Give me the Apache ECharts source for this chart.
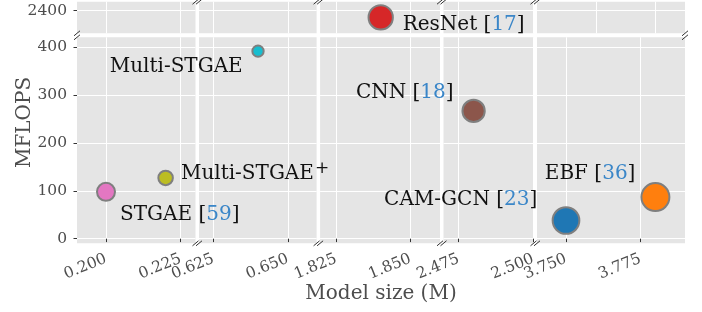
<!DOCTYPE html>
<html><head><meta charset="utf-8">
<script src="https://cdn.jsdelivr.net/npm/echarts@6/dist/echarts.min.js"></script>
<style>html,body{margin:0;padding:0;background:#fff}#c{width:702px;height:312px}</style>
</head><body><div id="c"></div>
<script>
// ---- data ----
const models = ['STGAE', 'Multi-STGAE+', 'Multi-STGAE', 'ResNet', 'CNN', 'CAM-GCN', 'EBF'];
const refs = ['59', '', '', '17', '18', '23', '36'];
const modelSize = [0.200, 0.220, 0.640, 1.840, 2.480, 3.750, 3.780];
const mflops = [98, 127, 392, 2386, 267, 38, 87];
// broken-axis ranges and tick labels
const xRanges = [[0.19027, 0.23003], [0.6202, 0.65966], [1.81966, 1.8599], [2.4699, 2.5001], [3.74027, 3.78993]];
const xTicks = [[0.200, 0.225], [0.625, 0.650], [1.825, 1.850], [2.475, 2.500], [3.750, 3.775]];
const xTicksTopRight = [3.76, 3.78];
const yRanges = [[2352.8, 2418.8], [-9.61, 420.9]];
const yTicks = [[2400], [0, 100, 200, 300, 400]];

// ---- styles / layout ----
const FONT = 'DejaVu Serif';
const colors = ['#e377c2', '#bcbd22', '#17becf', '#d62728', '#8c564b', '#1f77b4', '#ff7f0e'];
const sizes = [18, 14.5, 11.3, 24.3, 22.3, 26.7, 28];
const labelPlace = [
  {align: 'left', offset: [14, 22.6]},
  {align: 'left', offset: [15.3, -4.4]},
  {align: 'right', offset: [-15.3, 15.7]},
  {align: 'left', offset: [22, 7]},
  {align: 'right', offset: [-20, -17.7]},
  {align: 'right', offset: [-28.7, -20.7]},
  {align: 'right', offset: [-20, -23.7]}
];
const colEdges = [[77, 195.5], [199, 316.6], [320.1, 440], [443.5, 533.5], [537, 685]];
const rowEdges = [[1.7, 33.3], [37.3, 243.3]];

const grid = [], xAxis = [], yAxis = [], series = [];
for (let r = 0; r < 2; r++) {
  for (let c = 0; c < 5; c++) {
    const i = r * 5 + c;
    grid.push({
      left: colEdges[c][0], top: rowEdges[r][0],
      width: colEdges[c][1] - colEdges[c][0], height: rowEdges[r][1] - rowEdges[r][0],
      show: true, backgroundColor: '#e5e5e5', borderWidth: 0, containLabel: false, outerBoundsMode: 'none'
    });
    const xt = (r === 0 && c === 4) ? xTicksTopRight : xTicks[c];
    xAxis.push({
      type: 'value', gridIndex: i, min: xRanges[c][0], max: xRanges[c][1],
      axisLine: {show: false},
      axisTick: {show: r === 1, customValues: xt, length: 3.5, lineStyle: {color: '#333'}},
      axisLabel: {show: r === 1, customValues: xt, rotate: 22, margin: 15,
        formatter: v => v.toFixed(3), fontFamily: FONT, fontSize: 15.5, color: '#4d4d4d'},
      splitLine: {show: true, lineStyle: {color: '#ffffff', width: 1}}
    });
    yAxis.push({
      type: 'value', gridIndex: i, min: yRanges[r][0], max: yRanges[r][1],
      axisLine: {show: false},
      axisTick: {show: c === 0, customValues: yTicks[r], length: 3.5, lineStyle: {color: '#333'}},
      axisLabel: {show: c === 0, customValues: yTicks[r], margin: 10, formatter: v => String(v),
        fontFamily: FONT, fontSize: 15.5, color: '#4d4d4d'},
      splitLine: {show: true, lineStyle: {color: '#ffffff', width: 1}}
    });
  }
}
// frame grid for the axis titles
grid.push({left: 77, top: 1.7, width: 608, height: 241.6, show: false, outerBoundsMode: 'none'});
xAxis.push({type: 'value', gridIndex: 10, min: 0, max: 1, name: 'Model size (M)', nameLocation: 'middle', nameGap: 40,
  nameTextStyle: {fontFamily: FONT, fontSize: 20, color: '#4d4d4d'},
  axisLine: {show: false}, axisTick: {show: false}, axisLabel: {show: false}, splitLine: {show: false}});
yAxis.push({type: 'value', gridIndex: 10, min: 0, max: 1, name: 'MFLOPS', nameLocation: 'middle', nameGap: 42, nameRotate: 90,
  nameTextStyle: {fontFamily: FONT, fontSize: 20, color: '#4d4d4d'},
  axisLine: {show: false}, axisTick: {show: false}, axisLabel: {show: false}, splitLine: {show: false}});

const rich = {
  n: {fontFamily: FONT, fontSize: 20, color: '#111'},
  c: {fontFamily: FONT, fontSize: 20, color: '#3a86c8'},
  s: {fontFamily: FONT, fontSize: 17, color: '#111', verticalAlign: 'bottom', padding: [0, 0, 9, 1]}
};
function labelText(i) {
  const name = models[i];
  let out = '';
  if (name.endsWith('+')) out = '{n|' + name.slice(0, -1) + '}{s|+}';
  else out = '{n|' + name + '}';
  if (refs[i]) out += '{n| [}{c|' + refs[i] + '}{n|]}';
  return out;
}

models.forEach((m, i) => {
  const c = xRanges.findIndex(s => modelSize[i] >= s[0] && modelSize[i] <= s[1]);
  const r = yRanges.findIndex(s => mflops[i] >= s[0] && mflops[i] <= s[1]);
  const gi = r * 5 + c;
  series.push({
    type: 'scatter', name: m, xAxisIndex: gi, yAxisIndex: gi,
    data: [[modelSize[i], mflops[i]]],
    symbolSize: sizes[i], clip: false, z: 5,
    itemStyle: {color: colors[i], borderColor: '#7f7f7f', borderWidth: 2, opacity: 1},
    label: {show: true, position: 'inside', align: labelPlace[i].align, verticalAlign: 'middle',
      offset: labelPlace[i].offset, formatter: () => labelText(i), rich: rich},
    emphasis: {disabled: true}
  });
});

// break marks
const marks = [];
const slash = (x, y) => ({type: 'line', silent: true, z: 100,
  shape: {x1: x - 3, y1: y + 2.5, x2: x + 3, y2: y - 2.5}, style: {stroke: '#333', lineWidth: 1}});
for (let c = 0; c < 4; c++) {
  [colEdges[c][1], colEdges[c + 1][0]].forEach(x => {
    marks.push(slash(x, rowEdges[0][0]));
    marks.push(slash(x, rowEdges[1][1]));
  });
}
[rowEdges[0][1], rowEdges[1][0]].forEach(y => {
  marks.push(slash(colEdges[0][0], y));
  marks.push(slash(colEdges[4][1], y));
});

const chart = echarts.init(document.getElementById('c'), null, {renderer: 'canvas'});
chart.setOption({
  animation: false,
  backgroundColor: '#ffffff',
  grid, xAxis, yAxis, series,
  graphic: marks
});
</script></body></html>
